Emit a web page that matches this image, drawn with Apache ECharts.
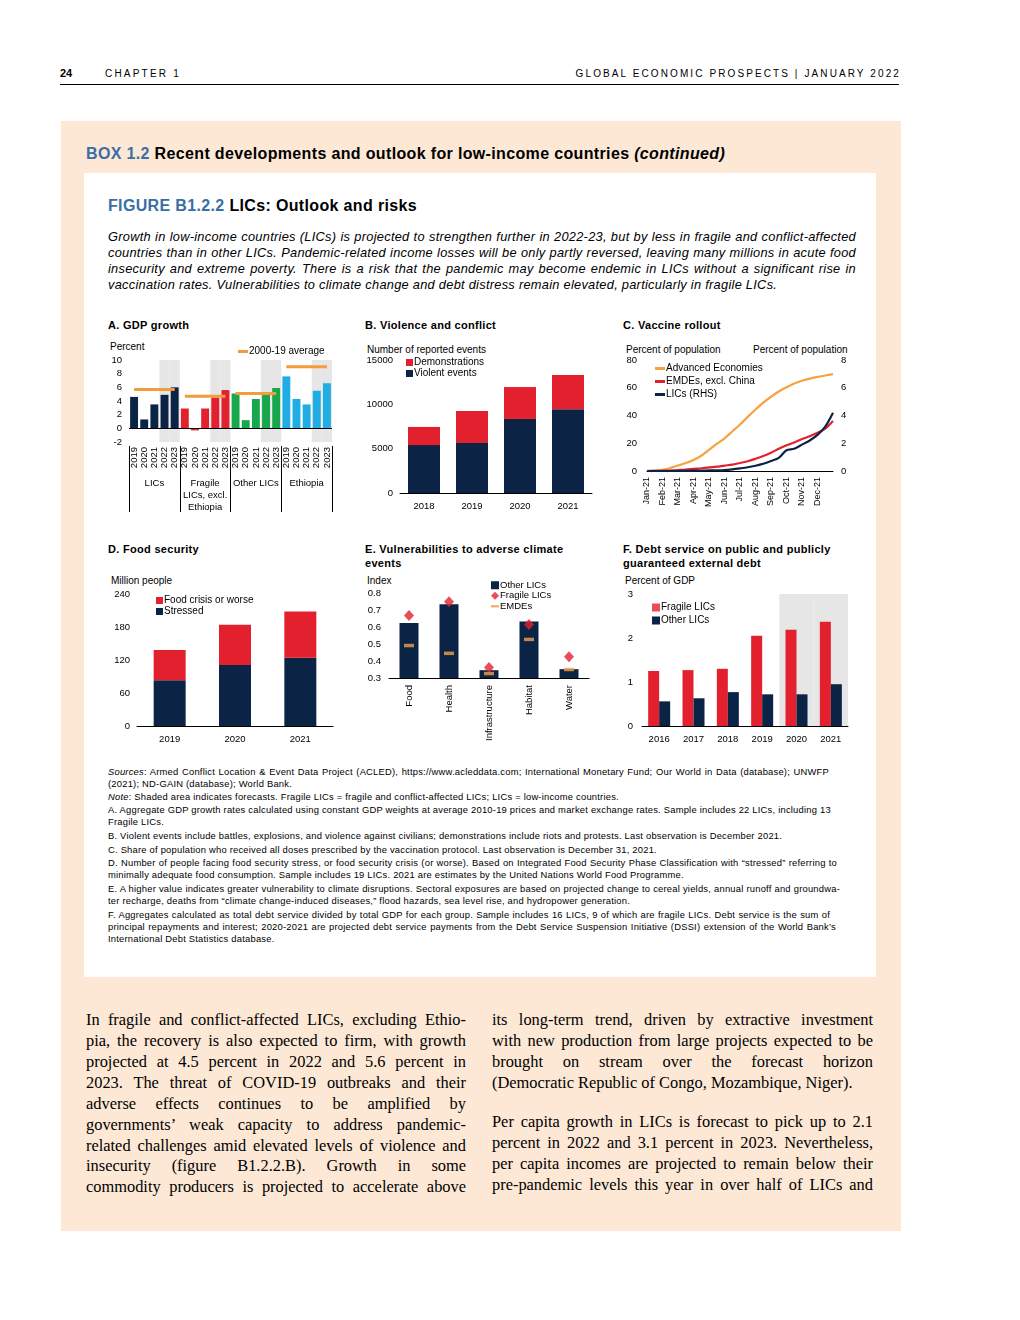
<!DOCTYPE html>
<html><head><meta charset="utf-8">
<script src="https://cdn.jsdelivr.net/npm/echarts/dist/echarts.min.js"></script>
<style>
html,body{margin:0;padding:0;background:#fff;}
body{width:1020px;height:1320px;position:relative;overflow:hidden;font-family:"Liberation Sans",Arial,sans-serif;color:#000;}
.a{position:absolute;white-space:nowrap;}
.j{position:absolute;white-space:nowrap;text-align:justify;text-align-last:justify;}
.note{font-size:9.4px;line-height:12px;letter-spacing:0.22px;}
.it{font-style:italic;font-size:12.8px;line-height:16px;letter-spacing:0.28px;}
.ser{font-family:"Liberation Serif","Times New Roman",serif;font-size:16.4px;line-height:21px;}
.pt{font-size:11px;font-weight:bold;line-height:14px;letter-spacing:0.3px;}
.ax{font-size:10px;line-height:12px;}
.ttl{font-size:16px;font-weight:bold;line-height:18px;letter-spacing:0.35px;}
#chart{position:absolute;left:0;top:0;width:1020px;height:1320px;z-index:5;}
</style></head>
<body>
<div class="a" style="left:60px;top:66px;font-size:11px;font-weight:bold;line-height:14px;">24</div>
<div class="a" style="left:105px;top:67px;font-size:10px;letter-spacing:2.2px;line-height:13px;">CHAPTER 1</div>
<div class="a" style="right:119px;top:67px;font-size:10px;letter-spacing:2.1px;line-height:13px;">GLOBAL ECONOMIC PROSPECTS | JANUARY 2022</div>
<div class="a" style="left:60px;top:84px;width:839px;height:1px;background:#000;"></div>

<div class="a" style="left:61px;top:121px;width:840px;height:1110px;background:#FDE8D6;"></div>
<div class="a ttl" style="left:86px;top:145px;"><span style="color:#3A6EA5">BOX 1.2</span> Recent developments and outlook for low-income countries <i>(continued)</i></div>
<div class="a" style="left:84px;top:173px;width:792px;height:804px;background:#fff;"></div>
<div class="a ttl" style="left:108px;top:197px;"><span style="color:#3A6EA5">FIGURE B1.2.2</span> LICs: Outlook and risks</div>

<div class="j it" style="left:108px;top:229px;width:748px;">Growth in low-income countries (LICs) is projected to strengthen further in 2022-23, but by less in fragile and conflict-affected</div>
<div class="j it" style="left:108px;top:245px;width:748px;">countries than in other LICs. Pandemic-related income losses will be only partly reversed, leaving many millions in acute food</div>
<div class="j it" style="left:108px;top:261px;width:748px;">insecurity and extreme poverty. There is a risk that the pandemic may become endemic in LICs without a significant rise in</div>
<div class="a it" style="left:108px;top:277px;">vaccination rates. Vulnerabilities to climate change and debt distress remain elevated, particularly in fragile LICs.</div>

<div class="a pt" style="left:108px;top:318px;">A. GDP growth</div>
<div class="a pt" style="left:365px;top:318px;">B. Violence and conflict</div>
<div class="a pt" style="left:623px;top:318px;">C. Vaccine rollout</div>
<div class="a pt" style="left:108px;top:542px;">D. Food security</div>
<div class="a pt" style="left:365px;top:542px;">E. Vulnerabilities to adverse climate<br>events</div>
<div class="a pt" style="left:623px;top:542px;">F. Debt service on public and publicly<br>guaranteed external debt</div>

<div class="a ax" style="left:110px;top:341px;">Percent</div>
<div class="a ax" style="left:367px;top:344px;">Number of reported events</div>
<div class="a ax" style="left:626px;top:344px;">Percent of population</div>
<div class="a ax" style="left:753px;top:344px;">Percent of population</div>
<div class="a ax" style="left:111px;top:575px;">Million people</div>
<div class="a ax" style="left:367px;top:575px;">Index</div>
<div class="a ax" style="left:625px;top:575px;">Percent of GDP</div>

<div class="j note" style="left:108px;top:766px;width:721px;"><i>Sources</i>: Armed Conflict Location &amp; Event Data Project (ACLED), https://www.acleddata.com; International Monetary Fund; Our World in Data (database); UNWFP</div>
<div class="a note" style="left:108px;top:778px;">(2021); ND-GAIN (database); World Bank.</div>
<div class="a note" style="left:108px;top:791px;"><i>Note</i>: Shaded area indicates forecasts. Fragile LICs = fragile and conflict-affected LICs; LICs = low-income countries.</div>
<div class="j note" style="left:108px;top:804px;width:721px;">A. Aggregate GDP growth rates calculated using constant GDP weights at average 2010-19 prices and market exchange rates. Sample includes 22 LICs, including 13</div>
<div class="a note" style="left:108px;top:816px;">Fragile LICs.</div>
<div class="a note" style="left:108px;top:830px;">B. Violent events include battles, explosions, and violence against civilians; demonstrations include riots and protests. Last observation is December 2021.</div>
<div class="a note" style="left:108px;top:844px;">C. Share of population who received all doses prescribed by the vaccination protocol. Last observation is December 31, 2021.</div>
<div class="j note" style="left:108px;top:857px;width:729px;">D. Number of people facing food security stress, or food security crisis (or worse). Based on Integrated Food Security Phase Classification with “stressed” referring to</div>
<div class="a note" style="left:108px;top:869px;">minimally adequate food consumption. Sample includes 19 LICs. 2021 are estimates by the United Nations World Food Programme.</div>
<div class="j note" style="left:108px;top:883px;width:732px;">E. A higher value indicates greater vulnerability to climate disruptions. Sectoral exposures are based on projected change to cereal yields, annual runoff and groundwa-</div>
<div class="a note" style="left:108px;top:895px;">ter recharge, deaths from “climate change-induced diseases,” flood hazards, sea level rise, and hydropower generation.</div>
<div class="j note" style="left:108px;top:909px;width:722px;">F. Aggregates calculated as total debt service divided by total GDP for each group. Sample includes 16 LICs, 9 of which are fragile LICs. Debt service is the sum of</div>
<div class="j note" style="left:108px;top:921px;width:728px;">principal repayments and interest; 2020-2021 are projected debt service payments from the Debt Service Suspension Initiative (DSSI) extension of the World Bank’s</div>
<div class="a note" style="left:108px;top:933px;">International Debt Statistics database.</div>

<div class="j ser" style="left:86px;top:1009px;width:380px;">In fragile and conflict-affected LICs, excluding Ethio-</div>
<div class="j ser" style="left:86px;top:1030px;width:380px;">pia, the recovery is also expected to firm, with growth</div>
<div class="j ser" style="left:86px;top:1051px;width:380px;">projected at 4.5 percent in 2022 and 5.6 percent in</div>
<div class="j ser" style="left:86px;top:1072px;width:380px;">2023. The threat of COVID-19 outbreaks and their</div>
<div class="j ser" style="left:86px;top:1093px;width:380px;">adverse effects continues to be amplified by</div>
<div class="j ser" style="left:86px;top:1114px;width:380px;">governments’ weak capacity to address pandemic-</div>
<div class="j ser" style="left:86px;top:1135px;width:380px;">related challenges amid elevated levels of violence and</div>
<div class="j ser" style="left:86px;top:1155px;width:380px;">insecurity (figure B1.2.2.B). Growth in some</div>
<div class="j ser" style="left:86px;top:1176px;width:380px;">commodity producers is projected to accelerate above</div>

<div class="j ser" style="left:492px;top:1009px;width:381px;">its long-term trend, driven by extractive investment</div>
<div class="j ser" style="left:492px;top:1030px;width:381px;">with new production from large projects expected to be</div>
<div class="j ser" style="left:492px;top:1051px;width:381px;">brought on stream over the forecast horizon</div>
<div class="a ser" style="left:492px;top:1072px;">(Democratic Republic of Congo, Mozambique, Niger).</div>
<div class="j ser" style="left:492px;top:1111px;width:381px;">Per capita growth in LICs is forecast to pick up to 2.1</div>
<div class="j ser" style="left:492px;top:1132px;width:381px;">percent in 2022 and 3.1 percent in 2023. Nevertheless,</div>
<div class="j ser" style="left:492px;top:1153px;width:381px;">per capita incomes are projected to remain below their</div>
<div class="j ser" style="left:492px;top:1174px;width:381px;">pre-pandemic levels this year in over half of LICs and</div>

<div id="chart"></div>
<script>
// ---------- DATA ----------
// A. GDP growth (percent)
const gdpYears = ['2019', '2020', '2021', '2022', '2023'];
const gdpGroups = ['LICs', 'Fragile\nLICs, excl.\nEthiopia', 'Other LICs', 'Ethiopia'];
const gdpLICs = [4.6, 1.3, 3.5, 4.9, 6.0];
const gdpFragile = [2.9, -0.3, 2.9, 4.5, 5.6];
const gdpOther = [5.1, 1.2, 4.3, 5.0, 5.9];
const gdpEthiopia = [7.6, 4.3, 3.5, 5.5, 6.6];
const gdpAvg = [5.7, 4.7, 5.1, 9.0];          // 2000-19 average per group
const gdpForecast = [0, 0, 0, 1, 1];           // shaded forecast years

// B. Violence and conflict (number of reported events)
const violenceYears = ['2018', '2019', '2020', '2021'];
const violentEvents = [5400, 5650, 8350, 9450];
const demonstrations = [2050, 3600, 3600, 3850];

// C. Vaccine rollout (percent of population), points on 1st and 15th of each month + Dec 31
const vaxMonths = ['Jan-21', 'Feb-21', 'Mar-21', 'Apr-21', 'May-21', 'Jun-21', 'Jul-21', 'Aug-21', 'Sep-21', 'Oct-21', 'Nov-21', 'Dec-21'];
const vaxAE = [0, 0.3, 0.8, 2.2, 4.0, 5.8, 8.0, 11.0, 15.3, 19.5, 23.5, 28.5, 33.5, 39.0, 44.3, 49.3, 53.5, 57.3, 60.3, 63.0, 65.0, 66.6, 67.8, 68.8, 69.8];
const vaxEMDE = [0, 0.1, 0.2, 0.4, 0.7, 1.0, 1.5, 2.0, 2.6, 3.1, 3.9, 4.6, 5.8, 7.0, 8.8, 10.8, 13.2, 16.0, 18.5, 20.5, 23.0, 25.0, 27.5, 30.5, 36.0];
const vaxLIC = [0, 0, 0, 0, 0, 0.01, 0.02, 0.03, 0.04, 0.05, 0.07, 0.12, 0.19, 0.27, 0.38, 0.52, 0.72, 0.95, 1.5, 1.6, 1.9, 2.2, 2.6, 3.2, 4.2];

// D. Food security (million people)
const foodYears = ['2019', '2020', '2021'];
const foodStressed = [83, 111, 124];
const foodCrisis = [55, 73, 84];

// E. Vulnerabilities to adverse climate events (index)
const climateSectors = ['Food', 'Health', 'Infrastructure', 'Habitat', 'Water'];
const climateOther = [0.623, 0.734, 0.346, 0.633, 0.352];
const climateFragile = [0.668, 0.748, 0.362, 0.615, 0.425];
const climateEMDE = [0.491, 0.445, 0.326, 0.527, 0.350];

// F. Debt service (percent of GDP)
const debtYears = ['2016', '2017', '2018', '2019', '2020', '2021'];
const debtFragile = [1.25, 1.27, 1.30, 2.05, 2.19, 2.37];
const debtOther = [0.56, 0.63, 0.77, 0.72, 0.72, 0.95];
const debtForecast = [0, 0, 0, 0, 1, 1];

// ---------- STYLE ----------
const FONT = '"Liberation Sans", Arial, sans-serif';
const NAVY = '#0B2345', RED = '#E3202E', GREEN = '#18A84B', LBLUE = '#1FADE4', ORANGE = '#F39C3C', AEOR = '#F4A340', GREY = '#E6E6E6';
const LBL = { color: '#000', fontSize: 9.5, fontFamily: FONT };
const plain = v => String(v);

function valAxis(gridIndex, min, max, interval, extra) {
  return Object.assign({
    type: 'value', gridIndex, min, max, interval,
    axisLine: { show: false }, axisTick: { show: false }, splitLine: { show: false },
    axisLabel: Object.assign({ margin: 7, formatter: plain }, LBL)
  }, extra || {});
}
function catAxis(gridIndex, data, extra) {
  return Object.assign({
    type: 'category', gridIndex, data, position: 'bottom',
    axisLine: { show: true, onZero: false, lineStyle: { color: '#000', width: 1 } },
    axisTick: { show: false }, splitLine: { show: false },
    axisLabel: Object.assign({ margin: 7, interval: 0 }, LBL)
  }, extra || {});
}
function hiddenAxis(type, gridIndex, data) {
  const a = { type, gridIndex, show: false };
  if (data) a.data = data; else { a.min = 0; a.max = 1; }
  return a;
}
const LEGTXT = { color: '#000', fontSize: 10, fontFamily: FONT, lineHeight: 11, padding: [0, 0, 0, -4] };
function legend(left, top, items, extra) {
  return Object.assign({
    left, top, orient: 'vertical', padding: 0, itemGap: 0, itemWidth: 7, itemHeight: 7,
    selectedMode: false, data: items, textStyle: LEGTXT
  }, extra || {});
}

// ---------- PANEL A derived ----------
const nY = gdpYears.length;
const gdpCats = gdpGroups.flatMap((g, gi) => gdpYears.map(y => y + '|' + gi));
function groupData(gi, vals) {
  const a = new Array(gdpGroups.length * nY).fill('-');
  vals.forEach((v, k) => { a[gi * nY + k] = v; });
  return a;
}
const gdpSeriesVals = [gdpLICs, gdpFragile, gdpOther, gdpEthiopia];
const gdpColors = [NAVY, RED, GREEN, LBLUE];
const gdpShade = gdpGroups.flatMap(() => gdpForecast);

const vaxCats = [];
vaxMonths.forEach(m => { vaxCats.push(m); vaxCats.push(m + ' mid'); });
vaxCats.push('Dec-21 end');

const series = [];
// A shade
series.push({ type: 'bar', xAxisIndex: 2, yAxisIndex: 1, data: gdpShade, barWidth: '100%', itemStyle: { color: GREY }, z: 1, silent: true });
// A bars
gdpSeriesVals.forEach((vals, gi) => {
  const s = { type: 'bar', name: 'gdp' + gi, stack: 'gdp', xAxisIndex: 0, yAxisIndex: 0, data: groupData(gi, vals), barWidth: '78%', itemStyle: { color: gdpColors[gi] }, z: 3, silent: true };
  if (gi === 0) s.markLine = { silent: true, symbol: 'none', label: { show: false }, lineStyle: { color: '#000', width: 1, type: 'solid' }, data: [{ yAxis: 0 }], z: 5 };
  series.push(s);
});
// A averages
gdpAvg.forEach((v, gi) => {
  series.push({ type: 'line', name: '2000-19 average', xAxisIndex: 0, yAxisIndex: 0, data: groupData(gi, gdpYears.map(() => v)), symbol: 'none', lineStyle: { color: ORANGE, width: 3 }, itemStyle: { color: ORANGE }, z: 6, silent: true });
});
// B
series.push({ type: 'bar', name: 'Violent events', stack: 'b', xAxisIndex: 3, yAxisIndex: 2, data: violentEvents, barWidth: 32, itemStyle: { color: NAVY }, silent: true });
series.push({ type: 'bar', name: 'Demonstrations', stack: 'b', xAxisIndex: 3, yAxisIndex: 2, data: demonstrations, barWidth: 32, itemStyle: { color: RED }, silent: true });
// C
series.push({ type: 'line', name: 'Advanced Economies', xAxisIndex: 4, yAxisIndex: 3, data: vaxAE, symbol: 'none', smooth: 0.3, lineStyle: { color: AEOR, width: 2.2 }, itemStyle: { color: AEOR }, silent: true });
series.push({ type: 'line', name: 'EMDEs, excl. China', xAxisIndex: 4, yAxisIndex: 3, data: vaxEMDE, symbol: 'none', smooth: 0.3, lineStyle: { color: RED, width: 2.2 }, itemStyle: { color: RED }, silent: true });
series.push({ type: 'line', name: 'LICs (RHS)', xAxisIndex: 4, yAxisIndex: 4, data: vaxLIC, symbol: 'none', smooth: 0.3, lineStyle: { color: NAVY, width: 2.2 }, itemStyle: { color: NAVY }, silent: true, z: 4 });
// D
series.push({ type: 'bar', name: 'Stressed', stack: 'd', xAxisIndex: 5, yAxisIndex: 5, data: foodStressed, barWidth: 32, itemStyle: { color: NAVY }, silent: true });
series.push({ type: 'bar', name: 'Food crisis or worse', stack: 'd', xAxisIndex: 5, yAxisIndex: 5, data: foodCrisis, barWidth: 32, itemStyle: { color: RED }, silent: true });
// E
series.push({ type: 'bar', name: 'Other LICs', xAxisIndex: 6, yAxisIndex: 6, data: climateOther, barWidth: 19, itemStyle: { color: NAVY }, silent: true, clip: true });
series.push({ type: 'scatter', name: 'Fragile LICs', xAxisIndex: 6, yAxisIndex: 6, data: climateFragile, symbol: 'diamond', symbolSize: [10, 11], itemStyle: { color: RED }, silent: true, z: 5 });
series.push({ type: 'scatter', name: 'EMDEs', xAxisIndex: 6, yAxisIndex: 6, data: climateEMDE, symbol: 'rect', symbolSize: [10, 3.5], itemStyle: { color: '#F0A04B' }, silent: true, z: 6 });
// F
series.push({ type: 'bar', xAxisIndex: 8, yAxisIndex: 8, data: debtForecast, barWidth: '100%', itemStyle: { color: GREY }, z: 1, silent: true });
series.push({ type: 'bar', name: 'Fragile LICs', xAxisIndex: 7, yAxisIndex: 7, data: debtFragile, barWidth: 11, barGap: '0%', itemStyle: { color: RED }, z: 3, silent: true });
series.push({ type: 'bar', name: 'Other LICs', xAxisIndex: 7, yAxisIndex: 7, data: debtOther, barWidth: 11, barGap: '0%', itemStyle: { color: NAVY }, z: 3, silent: true });

const option = {
  animation: false,
  textStyle: { fontFamily: FONT },
  grid: [
    { left: 129, top: 360, width: 203, height: 82 },   // 0 A
    { left: 129, top: 360, width: 203, height: 82 },   // 1 A shade
    { left: 400, top: 360, width: 192, height: 133 },  // 2 B
    { left: 647, top: 360, width: 186, height: 111 },  // 3 C
    { left: 137, top: 594, width: 196, height: 132 },  // 4 D
    { left: 389, top: 593, width: 200, height: 85 },   // 5 E
    { left: 642, top: 594, width: 206, height: 132 },  // 6 F
    { left: 642, top: 594, width: 206, height: 132 }   // 7 F shade
  ],
  xAxis: [
    catAxis(0, gdpCats, { axisLine: { show: false }, axisLabel: Object.assign({}, LBL, { rotate: 90, margin: 5, interval: 0, formatter: v => v.split('|')[0] }) }),
    catAxis(0, gdpGroups, { offset: 4, axisLine: { show: false }, axisTick: { show: true, interval: 0, length: 66, lineStyle: { color: '#000', width: 1 } }, axisLabel: Object.assign({}, LBL, { margin: 31, interval: 0, lineHeight: 12 }) }),
    hiddenAxis('category', 1, gdpCats),
    catAxis(2, violenceYears, { axisLabel: Object.assign({}, LBL, { margin: 8, interval: 0 }) }),
    catAxis(3, vaxCats, { boundaryGap: false, axisLabel: Object.assign({}, LBL, { fontSize: 9, rotate: 90, margin: 6, interval: (i) => i % 2 === 0 && i < 24 }) }),
    catAxis(4, foodYears, { axisLabel: Object.assign({}, LBL, { margin: 8, interval: 0 }) }),
    catAxis(5, climateSectors, { axisLabel: Object.assign({}, LBL, { rotate: 90, margin: 7, interval: 0 }) }),
    catAxis(6, debtYears, { axisLabel: Object.assign({}, LBL, { margin: 8, interval: 0 }) }),
    hiddenAxis('category', 7, debtYears)
  ],
  yAxis: [
    valAxis(0, -2, 10, 2),
    hiddenAxis('value', 1),
    valAxis(2, 0, 15000, 5000),
    valAxis(3, 0, 80, 20, { axisLabel: Object.assign({ margin: 10, formatter: plain }, LBL) }),
    valAxis(3, 0, 8, 2, { position: 'right', axisLabel: Object.assign({ margin: 8, formatter: plain }, LBL) }),
    valAxis(4, 0, 240, 60),
    valAxis(5, 0.3, 0.8, 0.1, { axisLabel: Object.assign({ margin: 8, formatter: v => v.toFixed(1) }, LBL) }),
    valAxis(6, 0, 3, 1, { axisLabel: Object.assign({ margin: 9, formatter: plain }, LBL) }),
    hiddenAxis('value', 7)
  ],
  legend: [
    legend(238, 346, [{ name: '2000-19 average', icon: 'rect' }], { itemWidth: 10, itemHeight: 3 }),
    legend(406, 357, [{ name: 'Demonstrations', icon: 'rect' }, { name: 'Violent events', icon: 'rect' }]),
    legend(655, 362, [{ name: 'Advanced Economies', icon: 'rect' }, { name: 'EMDEs, excl. China', icon: 'rect' }, { name: 'LICs (RHS)', icon: 'rect' }], { itemWidth: 10, itemHeight: 3, textStyle: Object.assign({}, LEGTXT, { lineHeight: 13 }) }),
    legend(156, 595, [{ name: 'Food crisis or worse', icon: 'rect' }, { name: 'Stressed', icon: 'rect' }]),
    legend(491, 580, [{ name: 'Other LICs', icon: 'rect' }, { name: 'Fragile LICs', icon: 'diamond' }, { name: 'EMDEs', icon: 'path://M0,0 L10,0 L10,3 L0,3 Z' }], { itemWidth: 8, itemHeight: 8, textStyle: Object.assign({}, LEGTXT, { fontSize: 9.5, lineHeight: 10.5 }) }),
    legend(652, 601, [{ name: 'Fragile LICs', icon: 'rect', itemStyle: { color: RED } }, { name: 'Other LICs', icon: 'rect', itemStyle: { color: NAVY } }], { itemWidth: 8, itemHeight: 8, textStyle: Object.assign({}, LEGTXT, { lineHeight: 13 }) })
  ],
  series
};
const chart = echarts.init(document.getElementById('chart'), null, { renderer: 'canvas', width: 1020, height: 1320 });
chart.setOption(option);
</script>
</body></html>
